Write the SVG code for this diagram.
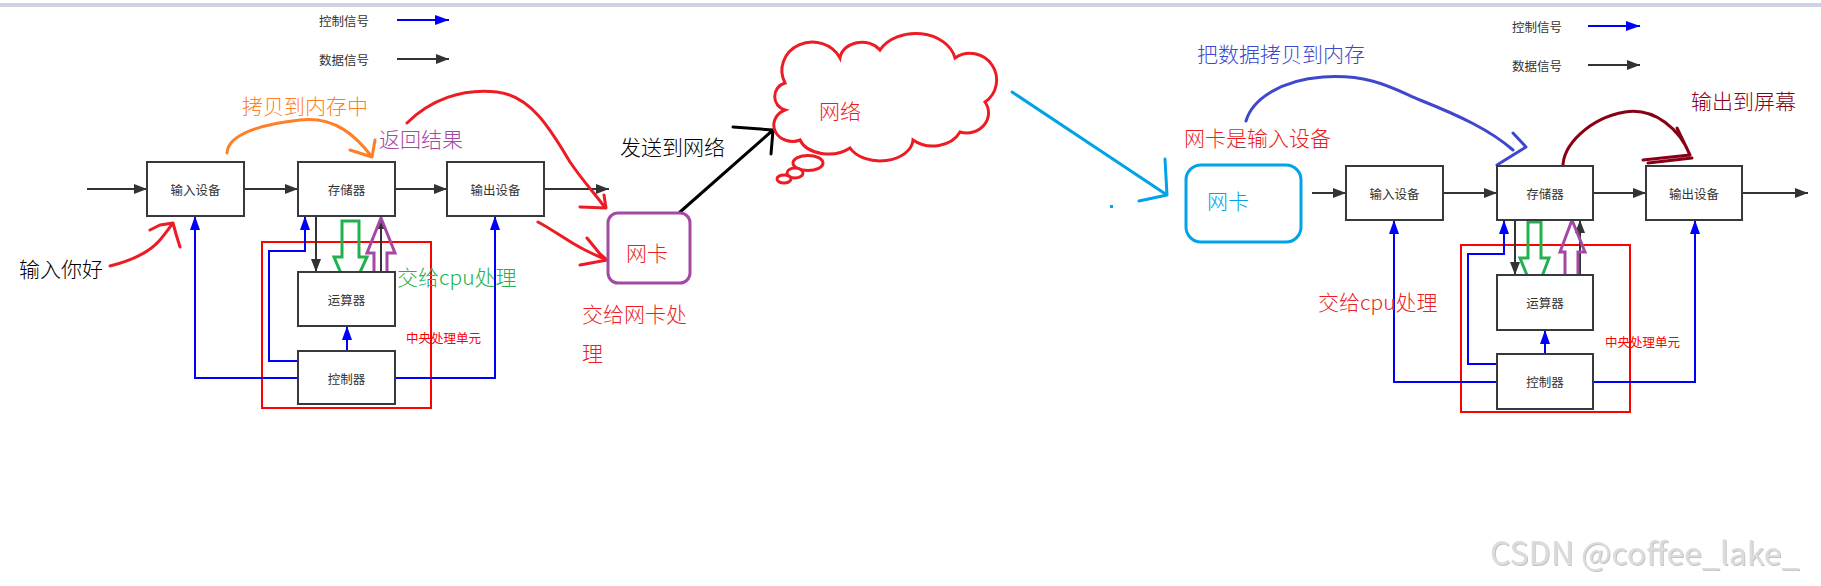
<svg xmlns="http://www.w3.org/2000/svg" width="1821" height="586" viewBox="0 0 1821 586">
<style>
text{font-family:"Noto Sans CJK SC","Noto Sans",sans-serif;dominant-baseline:central}
.box{fill:#fff;stroke:#36393d;stroke-width:2}
.lbl{font-size:12.5px;fill:#333;text-anchor:middle}
.big{font-size:21px;font-weight:300}
.d{stroke:#333;stroke-width:2;fill:none;marker-end:url(#md)}
.b{stroke:#0000ff;stroke-width:2;fill:none;marker-end:url(#mb)}
.hand{fill:none;stroke-width:3;stroke-linecap:round;stroke-linejoin:round}
.red{stroke:#ed1c24}
.cpu{fill:none;stroke:#ff0000;stroke-width:2}
</style>
<defs>
<marker id="md" viewBox="0 0 13 10" refX="13" refY="5" markerWidth="13" markerHeight="10" markerUnits="userSpaceOnUse" orient="auto"><path d="M0,0 L13,5 L0,10 Z" fill="#333"/></marker>
<marker id="mb" viewBox="0 0 14 10" refX="14" refY="5" markerWidth="14" markerHeight="10" markerUnits="userSpaceOnUse" orient="auto"><path d="M0,0 L14,5 L0,10 Z" fill="#0000ff"/></marker>
<filter id="emb" x="-5%" y="-20%" width="110%" height="140%"><feDropShadow dx="1" dy="1" stdDeviation="0.6" flood-color="#999" flood-opacity="0.6"/></filter>
</defs>
<rect x="0" y="0" width="1821" height="586" fill="#fff"/>
<rect x="0" y="3" width="1821" height="4" fill="#cdd3e0"/>

<!-- legends -->
<g id="legend-left">
<text x="319" y="20" font-size="12.5" fill="#333">控制信号</text>
<text x="319" y="59" font-size="12.5" fill="#333">数据信号</text>
</g>
<g id="legend-right">
<text x="1512" y="26" font-size="12.5" fill="#333">控制信号</text>
<text x="1512" y="65" font-size="12.5" fill="#333">数据信号</text>
</g>

<!-- CPU frames -->
<g id="cpu-left"><rect class="cpu" x="262" y="242" width="169" height="166"/><text x="406" y="337" font-size="12.5" fill="#ff0000">中央处理单元</text></g>
<g id="cpu-right"><rect class="cpu" x="1461" y="245" width="169" height="167"/><text x="1605" y="341" font-size="12.5" fill="#ff0000">中央处理单元</text></g>

<!-- connectors -->
<g id="connectors">
<line class="b" x1="397" y1="20" x2="449" y2="20"/>
<line class="d" x1="397" y1="59" x2="449" y2="59"/>
<line class="b" x1="1588" y1="26" x2="1640" y2="26"/>
<line class="d" x1="1588" y1="65" x2="1640" y2="65"/>
<!-- left -->
<line class="d" x1="87" y1="189" x2="147" y2="189"/>
<line class="d" x1="244" y1="189" x2="298" y2="189"/>
<line class="d" x1="395" y1="189" x2="447" y2="189"/>
<line class="d" x1="544" y1="189" x2="609" y2="189"/>
<line class="d" x1="316" y1="216" x2="316" y2="272"/>
<line class="d" x1="381" y1="272" x2="381" y2="216"/>
<polyline class="b" points="298,378 195,378 195,216"/>
<polyline class="b" points="395,378 495,378 495,216"/>
<polyline class="b" points="298,361 269,361 269,251 305,251 305,216"/>
<line class="b" x1="347" y1="351" x2="347" y2="326"/>
<!-- right -->
<line class="d" x1="1312" y1="193" x2="1346" y2="193"/>
<line class="d" x1="1443" y1="193" x2="1497" y2="193"/>
<line class="d" x1="1593" y1="193" x2="1646" y2="193"/>
<line class="d" x1="1742" y1="193" x2="1808" y2="193"/>
<line class="d" x1="1515" y1="220" x2="1515" y2="275"/>
<line class="d" x1="1580" y1="275" x2="1580" y2="220"/>
<polyline class="b" points="1497,382 1394,382 1394,220"/>
<polyline class="b" points="1593,382 1695,382 1695,220"/>
<polyline class="b" points="1497,364 1468,364 1468,254 1504,254 1504,220"/>
<line class="b" x1="1545" y1="354" x2="1545" y2="330"/>
<!-- hollow arrows -->
<polygon points="342,221 359,221 359,257 367,257 350,294 334,257 342,257" fill="none" stroke="#22b14c" stroke-width="3"/>
<polygon points="374,286 387,286 387,253 395,253 381,218 367,253 374,253" fill="none" stroke="#a349a4" stroke-width="3"/>
<polygon points="1528,222 1541,222 1541,258 1549,258 1535,295 1520,258 1528,258" fill="none" stroke="#22b14c" stroke-width="3"/>
<polygon points="1565,287 1578,287 1578,252 1585,252 1572,220 1560,252 1565,252" fill="none" stroke="#a349a4" stroke-width="3"/>
<!-- hand drawn -->
<path class="hand red" d="M110,266 C130,261 148,254 160,240 C166,233 170,227 173,223 M150,230 L160,225 L173,223 L176,234 L180,247"/>
<path class="hand" stroke="#ff7f27" d="M227,153 C228,134 262,124 300,120 C335,116 356,136 372,157 M350,150 L372,157 L375,140"/>
<path class="hand red" d="M407,123 C430,100 462,88 497,92 C532,96 552,132 570,162 C585,184 598,197 605,208 M580,207 L606,208 L604,195"/>
<path class="hand red" d="M538,222 C555,231 570,243 585,250 C595,255 602,258 607,260 M587,238 L600,254 L607,260 L580,265"/>
<path class="hand" stroke="#000" d="M680,212 L773,130 M733,127 L773,130 L771,154"/>
<path class="hand" stroke="#00a2e8" d="M1012,92 L1167,195 M1165,159 L1167,195 L1139,201"/>
<rect x="1110" y="205" width="3" height="3" fill="#00a2e8"/>
<path class="hand" stroke="#3f48cc" d="M1246,121 C1252,100 1280,80 1323,77 C1370,74 1392,88 1420,100 C1460,116 1490,130 1513,150 M1513,133 L1526,147 L1497,165"/>
<path class="hand" stroke="#880015" d="M1563,168 C1562,145 1590,118 1625,112 C1655,107 1680,130 1690,155 M1643,160 L1690,155 L1677,128 M1648,163 L1692,158"/>
</g>

<!-- left nodes -->
<g id="in-left"><rect class="box" x="147" y="162" width="97" height="54"/><text class="lbl" x="195.5" y="189">输入设备</text></g>
<g id="mem-left"><rect class="box" x="298" y="162" width="97" height="54"/><text class="lbl" x="346.5" y="189">存储器</text></g>
<g id="out-left"><rect class="box" x="447" y="162" width="97" height="54"/><text class="lbl" x="495.5" y="189">输出设备</text></g>
<g id="alu-left"><rect class="box" x="298" y="272" width="97" height="54"/><text class="lbl" x="346.5" y="299">运算器</text></g>
<g id="ctl-left"><rect class="box" x="298" y="351" width="97" height="53"/><text class="lbl" x="346.5" y="378">控制器</text></g>
<g id="nic-left"><rect x="608" y="213" width="82" height="70" rx="10" fill="#fff" stroke="#a349a4" stroke-width="3"/><text x="647" y="252" font-size="21" font-weight="300" fill="#ed1c24" text-anchor="middle">网卡</text></g>
<g id="cloud">
<path d="M785,110 A14,14 0 0 1 785,83 A28,26 0 0 1 840,58 A22,18 0 0 1 880,50 A40,30 0 0 1 955,58 A22,22 0 0 1 985,102 A22,20 0 0 1 960,132 A30,24 0 0 1 913,140 A33,22 0 0 1 850,148 A30,20 0 0 1 800,140 A16,14 0 0 1 785,110 Z" fill="#fff" stroke="#ed1c24" stroke-width="3"/>
<ellipse cx="808" cy="163" rx="15" ry="7.5" fill="#fff" stroke="#ed1c24" stroke-width="3"/>
<ellipse cx="795" cy="173" rx="8" ry="5" fill="#fff" stroke="#ed1c24" stroke-width="3"/>
<ellipse cx="784" cy="179" rx="7" ry="4" fill="#fff" stroke="#ed1c24" stroke-width="3"/>
<text x="840" y="110" font-size="21" font-weight="300" fill="#ed1c24" text-anchor="middle">网络</text>
</g>

<!-- right nodes -->
<g id="nic-right"><rect x="1186" y="165" width="115" height="77" rx="15" fill="#fff" stroke="#00a2e8" stroke-width="3"/><text x="1207" y="200" font-size="21" font-weight="300" fill="#00a2e8">网卡</text></g>
<g id="in-right"><rect class="box" x="1346" y="166" width="97" height="54"/><text class="lbl" x="1394.5" y="193">输入设备</text></g>
<g id="mem-right"><rect class="box" x="1497" y="166" width="96" height="54"/><text class="lbl" x="1545" y="193">存储器</text></g>
<g id="out-right"><rect class="box" x="1646" y="166" width="96" height="54"/><text class="lbl" x="1694" y="193">输出设备</text></g>
<g id="alu-right"><rect class="box" x="1497" y="275" width="96" height="55"/><text class="lbl" x="1545" y="302">运算器</text></g>
<g id="ctl-right"><rect class="box" x="1497" y="354" width="96" height="55"/><text class="lbl" x="1545" y="381">控制器</text></g>

<!-- annotations -->
<g id="notes">
<text class="big" x="19" y="268" fill="#000">输入你好</text>
<text class="big" x="242" y="105" fill="#ff7f27">拷贝到内存中</text>
<text class="big" x="379" y="138" fill="#a349a4">返回结果</text>
<text class="big" x="397" y="276" fill="#22b14c">交给cpu处理</text>
<text class="big" x="582" y="313" fill="#ed1c24">交给网卡处</text>
<text class="big" x="582" y="352" fill="#ed1c24">理</text>
<text class="big" x="620" y="146" fill="#000">发送到网络</text>
<text class="big" x="1197" y="53" fill="#3f48cc">把数据拷贝到内存</text>
<text class="big" x="1184" y="137" fill="#ed1c24">网卡是输入设备</text>
<text class="big" x="1691" y="100" fill="#880015">输出到屏幕</text>
<text class="big" x="1318" y="301" fill="#ed1c24">交给cpu处理</text>
<text x="1490" y="551" font-family="Liberation Sans, Arial, sans-serif" font-size="32" fill="#dcdcdc" filter="url(#emb)">CSDN @coffee_lake_</text>
</g>
</svg>
